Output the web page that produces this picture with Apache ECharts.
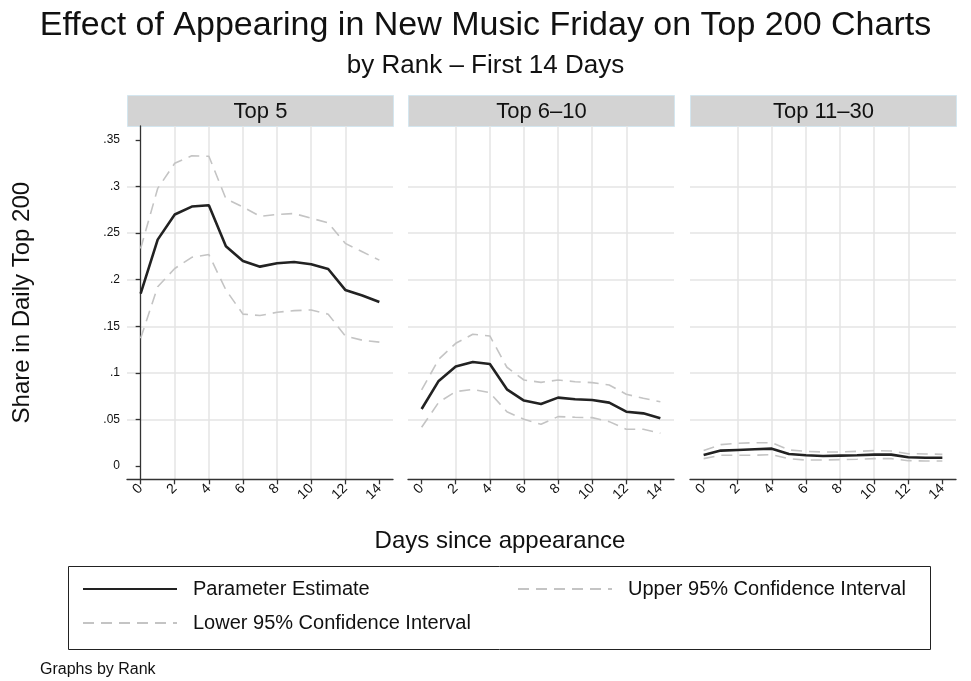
<!DOCTYPE html>
<html>
<head>
<meta charset="utf-8">
<script src="https://cdn.jsdelivr.net/npm/echarts@6/dist/echarts.min.js"></script>
<style>
html,body{margin:0;padding:0;background:#fff;}
#chart{width:971px;height:681px;}
</style>
</head>
<body>
<div id="chart"></div>
<script>
// ---- data ----
var days = [0,1,2,3,4,5,6,7,8,9,10,11,12,13,14];
var panelNames = ['Top 5', 'Top 6\u201310', 'Top 11\u201330'];
var xTickValues = [0,2,4,6,8,10,12,14];
var yTickValues = [0,0.05,0.1,0.15,0.2,0.25,0.3,0.35];

var top5Estimate = [0.185,0.243,0.270,0.2785,0.280,0.236,0.220,0.214,0.2176,0.219,0.2165,0.2115,0.189,0.183,0.176];
var top5Upper    = [0.2334,0.298,0.325,0.333,0.3325,0.287,0.278,0.268,0.270,0.271,0.266,0.261,0.239,0.230,0.221];
var top5Lower    = [0.137,0.1925,0.212,0.224,0.227,0.189,0.163,0.1615,0.165,0.1668,0.1675,0.163,0.1396,0.135,0.133];

var top6to10Estimate = [0.0612,0.0913,0.1067,0.1117,0.1095,0.0823,0.0702,0.0666,0.0734,0.0716,0.0709,0.068,0.0583,0.0565,0.0512];
var top6to10Upper    = [0.0816,0.1145,0.1317,0.1414,0.1396,0.106,0.0923,0.0898,0.0923,0.0905,0.0895,0.087,0.077,0.0727,0.069];
var top6to10Lower    = [0.0415,0.0684,0.0798,0.0823,0.0787,0.0583,0.0501,0.0447,0.053,0.0523,0.0519,0.0476,0.0394,0.0394,0.0351];

var top11to30Estimate = [0.0118,0.0165,0.0172,0.0179,0.0186,0.0129,0.0115,0.0107,0.0111,0.0115,0.0122,0.0122,0.0093,0.0089,0.0089];
var top11to30Upper    = [0.0165,0.0229,0.0243,0.025,0.025,0.0172,0.0157,0.015,0.015,0.0157,0.0165,0.0161,0.0132,0.0129,0.0125];
var top11to30Lower    = [0.0079,0.0115,0.0115,0.0115,0.0122,0.0079,0.0064,0.0064,0.0068,0.0072,0.0079,0.0079,0.0057,0.0054,0.0054];

var estimates = [top5Estimate, top6to10Estimate, top11to30Estimate];
var uppers = [top5Upper, top6to10Upper, top11to30Upper];
var lowers = [top5Lower, top6to10Lower, top11to30Lower];

var NAME_EST = 'Parameter Estimate';
var NAME_UP = 'Upper 95% Confidence Interval';
var NAME_LO = 'Lower 95% Confidence Interval';

// ---- layout ----
var FONT = '"Liberation Sans", Arial, Helvetica, sans-serif';
var panelLeft = [127, 408, 690];
var panelWidth = 266;
var plotTop = 126;
var plotHeight = 353.3;
var headerTop = 95;
var headerHeight = 31;

var gridColor = '#e4e4e4';
var axisColor = '#333333';
var ciColor = '#c4c4c4';
var estColor = '#222222';
var dash = [11, 7];

function pairs(arr){ return days.map(function(d,i){ return [d, arr[i]]; }); }
function yFmt(v){
  if (Math.abs(v) < 1e-9) return '0';
  var s = String(Math.round(v*100)/100);
  return s.replace(/^0\./, '.');
}

var grids = [], xAxes = [], yAxes = [], series = [], graphics = [];
for (var p = 0; p < 3; p++) {
  grids.push({left: panelLeft[p], top: plotTop, width: panelWidth, height: plotHeight, containLabel: false});
  var xa = {
    type: 'value', gridIndex: p, min: -0.8, max: 14.8, minInterval: 2, maxInterval: 2,
    axisLine: {show: true, onZero: false, lineStyle: {color: axisColor, width: 1.3}},
    axisTick: {show: true, length: 5, customValues: xTickValues, lineStyle: {color: axisColor, width: 1.3}},
    axisLabel: {show: true, customValues: xTickValues, rotate: 45, margin: 7, fontSize: 14, color: '#111', fontFamily: FONT},
    splitLine: {show: true, showMinLine: false, showMaxLine: false, lineStyle: {color: gridColor, width: 1.5}}
  };
  if (p === 1) {
    xa.name = 'Days since appearance';
    xa.nameLocation = 'middle';
    xa.nameGap = 50;
    xa.nameTextStyle = {fontSize: 24, color: '#111', fontFamily: FONT, padding: [0, 82, 0, 0]};
  }
  xAxes.push(xa);
  var ya = {
    type: 'value', gridIndex: p, min: -0.0143, max: 0.365, minInterval: 0.05, maxInterval: 0.05,
    axisLine: {show: p === 0, lineStyle: {color: axisColor, width: 1.3}},
    axisTick: {show: p === 0, length: 5, customValues: yTickValues, lineStyle: {color: axisColor, width: 1.3}},
    axisLabel: {show: p === 0, customValues: yTickValues, formatter: yFmt, margin: 7, fontSize: 12, color: '#111', fontFamily: FONT},
    splitLine: {show: true, showMinLine: false, showMaxLine: false, lineStyle: {color: gridColor, width: 1.5}}
  };
  if (p === 0) {
    ya.name = 'Share in Daily Top 200';
    ya.nameLocation = 'middle';
    ya.nameGap = 93;
    ya.nameRotate = 90;
    ya.nameTextStyle = {fontSize: 24, color: '#111', fontFamily: FONT};
  }
  yAxes.push(ya);

  series.push({
    name: NAME_UP, type: 'line', xAxisIndex: p, yAxisIndex: p, data: pairs(uppers[p]),
    symbol: 'none', silent: true,
    lineStyle: {color: ciColor, width: 1.6, type: dash}, itemStyle: {color: 'rgba(0,0,0,0)', borderWidth: 0}
  });
  series.push({
    name: NAME_LO, type: 'line', xAxisIndex: p, yAxisIndex: p, data: pairs(lowers[p]),
    symbol: 'none', silent: true,
    lineStyle: {color: ciColor, width: 1.6, type: dash}, itemStyle: {color: 'rgba(0,0,0,0)', borderWidth: 0}
  });
  series.push({
    name: NAME_EST, type: 'line', xAxisIndex: p, yAxisIndex: p, data: pairs(estimates[p]),
    symbol: 'none', silent: true,
    lineStyle: {color: estColor, width: 2.6}, itemStyle: {color: 'rgba(0,0,0,0)', borderWidth: 0}
  });

  graphics.push({
    type: 'group', left: panelLeft[p], top: headerTop,
    children: [
      {type: 'rect', shape: {x: 0, y: 0, width: panelWidth, height: headerHeight},
       style: {fill: '#d3d3d3', stroke: '#d4e6ef', lineWidth: 1}},
      {type: 'text', x: panelWidth/2, y: headerHeight/2 + 1,
       style: {text: panelNames[p], fill: '#111', font: '22px ' + FONT, align: 'center', verticalAlign: 'middle'}}
    ]
  });
}

// legend box
graphics.push({type: 'rect', left: 66, top: 564, shape: {x: 0, y: 0, width: 862, height: 83},
  style: {fill: 'none', stroke: '#222', lineWidth: 1}, z: 0});

var legendText = {fontSize: 20, color: '#111', fontFamily: FONT, padding: [0, 0, 0, 11]};
function mkLegend(name, left, top){
  return {data: [name], left: left, top: top, padding: 0, itemWidth: 94, itemHeight: 14,
    itemStyle: {opacity: 0}, textStyle: legendText, selectedMode: false};
}

var option = {
  backgroundColor: '#ffffff',
  animation: false,
  textStyle: {fontFamily: FONT},
  title: [
    {text: 'Effect of Appearing in New Music Friday on Top 200 Charts', left: 'center', top: 9, padding: 0,
     textStyle: {fontSize: 34, fontWeight: 'normal', color: '#111', fontFamily: FONT}},
    {text: 'by Rank \u2013 First 14 Days', left: 'center', top: 53, padding: 0,
     textStyle: {fontSize: 26, fontWeight: 'normal', color: '#111', fontFamily: FONT}},
    {text: 'Graphs by Rank', left: 40, top: 662, padding: 0,
     textStyle: {fontSize: 16, fontWeight: 'normal', color: '#111', fontFamily: FONT}}
  ],
  legend: [
    mkLegend(NAME_EST, 82, 579),
    mkLegend(NAME_UP, 517, 579),
    mkLegend(NAME_LO, 82, 613)
  ],
  grid: grids,
  xAxis: xAxes,
  yAxis: yAxes,
  series: series,
  graphic: graphics
};

var chart = echarts.init(document.getElementById('chart'), null, {renderer: 'canvas'});
chart.setOption(option);
</script>
</body>
</html>
